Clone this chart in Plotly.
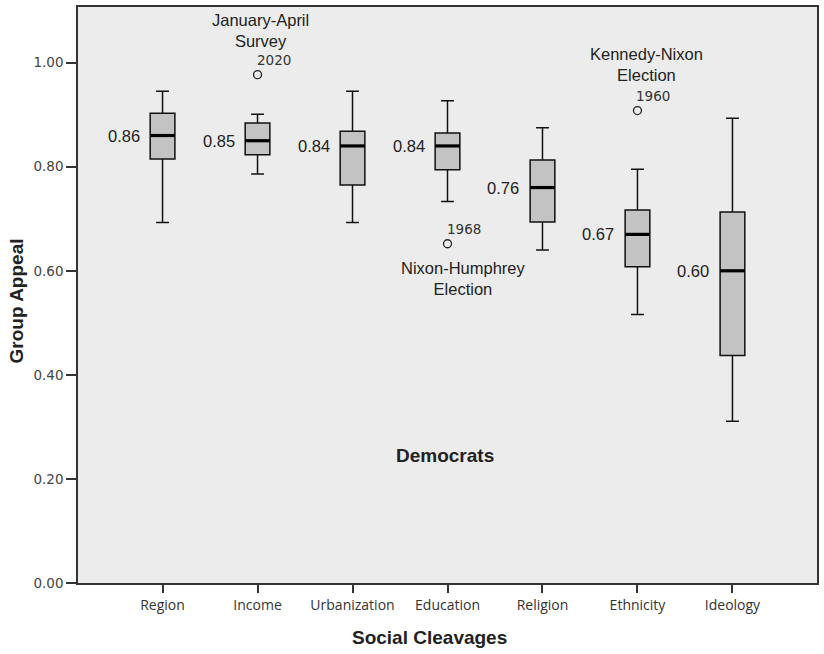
import plotly.graph_objects as go

# Summary statistics of group appeal per social cleavage (Democrats)
categories = ["Region", "Income", "Urbanization", "Education", "Religion", "Ethnicity", "Ideology"]
lower_whisker = [0.693, 0.786, 0.693, 0.733, 0.640, 0.516, 0.311]
q1 = [0.815, 0.823, 0.765, 0.794, 0.694, 0.608, 0.437]
median = [0.86, 0.85, 0.84, 0.84, 0.76, 0.67, 0.60]
q3 = [0.903, 0.884, 0.868, 0.865, 0.813, 0.717, 0.713]
upper_whisker = [0.945, 0.901, 0.945, 0.927, 0.875, 0.795, 0.893]

# Outlying observations: (category, value, year, event)
outlier_cat = ["Income", "Education", "Ethnicity"]
outlier_val = [0.977, 0.652, 0.908]
outlier_year = ["2020", "1968", "1960"]
outlier_event = ["January-April<br>Survey", "Nixon-Humphrey<br>Election", "Kennedy-Nixon<br>Election"]

y_ticks = [0.0, 0.2, 0.4, 0.6, 0.8, 1.0]

pos = list(range(len(categories)))
box_w = 0.26
idx = {c: i for i, c in enumerate(categories)}

fig = go.Figure()

fig.add_trace(go.Box(
    x=pos, q1=q1, median=median, q3=q3,
    lowerfence=lower_whisker, upperfence=upper_whisker,
    width=box_w, whiskerwidth=0.52,
    fillcolor="#c3c3c3", line=dict(color="#111111", width=1.5),
    boxpoints=False, showlegend=False, hoverinfo="skip",
))

# Thick median bars
mx, my = [], []
for i, m in enumerate(median):
    mx += [i - box_w / 2, i + box_w / 2, None]
    my += [m, m, None]
fig.add_trace(go.Scatter(x=mx, y=my, mode="lines",
                         line=dict(color="#000000", width=3.2),
                         showlegend=False, hoverinfo="skip"))

# Outliers as open circles
fig.add_trace(go.Scatter(
    x=[idx[c] for c in outlier_cat], y=outlier_val, mode="markers",
    marker=dict(symbol="circle-open", size=8, color="#222", line=dict(width=1.3)),
    showlegend=False, hoverinfo="skip"))

annotations = []
label_font = dict(family="Liberation Sans, Arial, sans-serif", size=16.5, color="#222")
year_font = dict(family="DejaVu Sans, Verdana, sans-serif", size=13.5, color="#333")
title_font = dict(family="Liberation Sans, Arial, sans-serif", size=19, color="#222")

# Median value labels to the left of each box
for i, m in enumerate(median):
    annotations.append(dict(x=i, y=m, xref="x", yref="y", text=f"{m:.2f}",
                            showarrow=False, xanchor="right", yanchor="middle",
                            xshift=-21, yshift=0, font=label_font))

# Year and event labels around outliers
event_offsets = {
    "Income": (3, 44),
    "Education": (16, -35),
    "Ethnicity": (9, 46),
}
for c, v, yr, ev in zip(outlier_cat, outlier_val, outlier_year, outlier_event):
    i = idx[c]
    annotations.append(dict(x=i, y=v, xref="x", yref="y", text=yr, showarrow=False,
                            xanchor="center", yanchor="middle", xshift=16,
                            yshift=15, font=year_font))
    dx, dy = event_offsets[c]
    annotations.append(dict(x=i, y=v, xref="x", yref="y", text=ev, showarrow=False,
                            xanchor="center", yanchor="middle", xshift=dx,
                            yshift=dy, font=label_font))

# Panel label
annotations.append(dict(x=2.97, y=0.246, xref="x", yref="y", text="<b>Democrats</b>",
                        showarrow=False, font=title_font))
# Axis titles
annotations.append(dict(x=0.475, y=-0.095, xref="paper", yref="paper",
                        text="<b>Social Cleavages</b>", showarrow=False,
                        xanchor="center", yanchor="middle", font=title_font))
annotations.append(dict(x=-0.083, y=0.49, xref="paper", yref="paper",
                        text="<b>Group Appeal</b>", showarrow=False, textangle=-90,
                        xanchor="center", yanchor="middle", font=title_font))

fig.update_layout(
    width=824, height=654,
    margin=dict(l=78, r=5, t=6, b=71),
    paper_bgcolor="#ffffff", plot_bgcolor="#ececec",
    annotations=annotations,
    xaxis=dict(range=[-0.89, 6.89], tickvals=pos, ticktext=categories,
               showgrid=False, zeroline=False, showline=True, mirror=True,
               linecolor="#333", linewidth=1.6, ticks="outside", ticklen=8,
               tickcolor="#333", tickwidth=1.5,
               tickfont=dict(family="Open Sans, sans-serif", size=14, color="#333")),
    yaxis=dict(range=[0, 1.107], tickvals=y_ticks, tickformat=".2f",
               showgrid=False, zeroline=False, showline=True, mirror=True,
               linecolor="#333", linewidth=1.6, ticks="outside", ticklen=10,
               tickcolor="#333", tickwidth=1.5,
               tickfont=dict(family="DejaVu Sans, Verdana, sans-serif", size=13.5, color="#444")),
)

fig.write_html("out.html")
